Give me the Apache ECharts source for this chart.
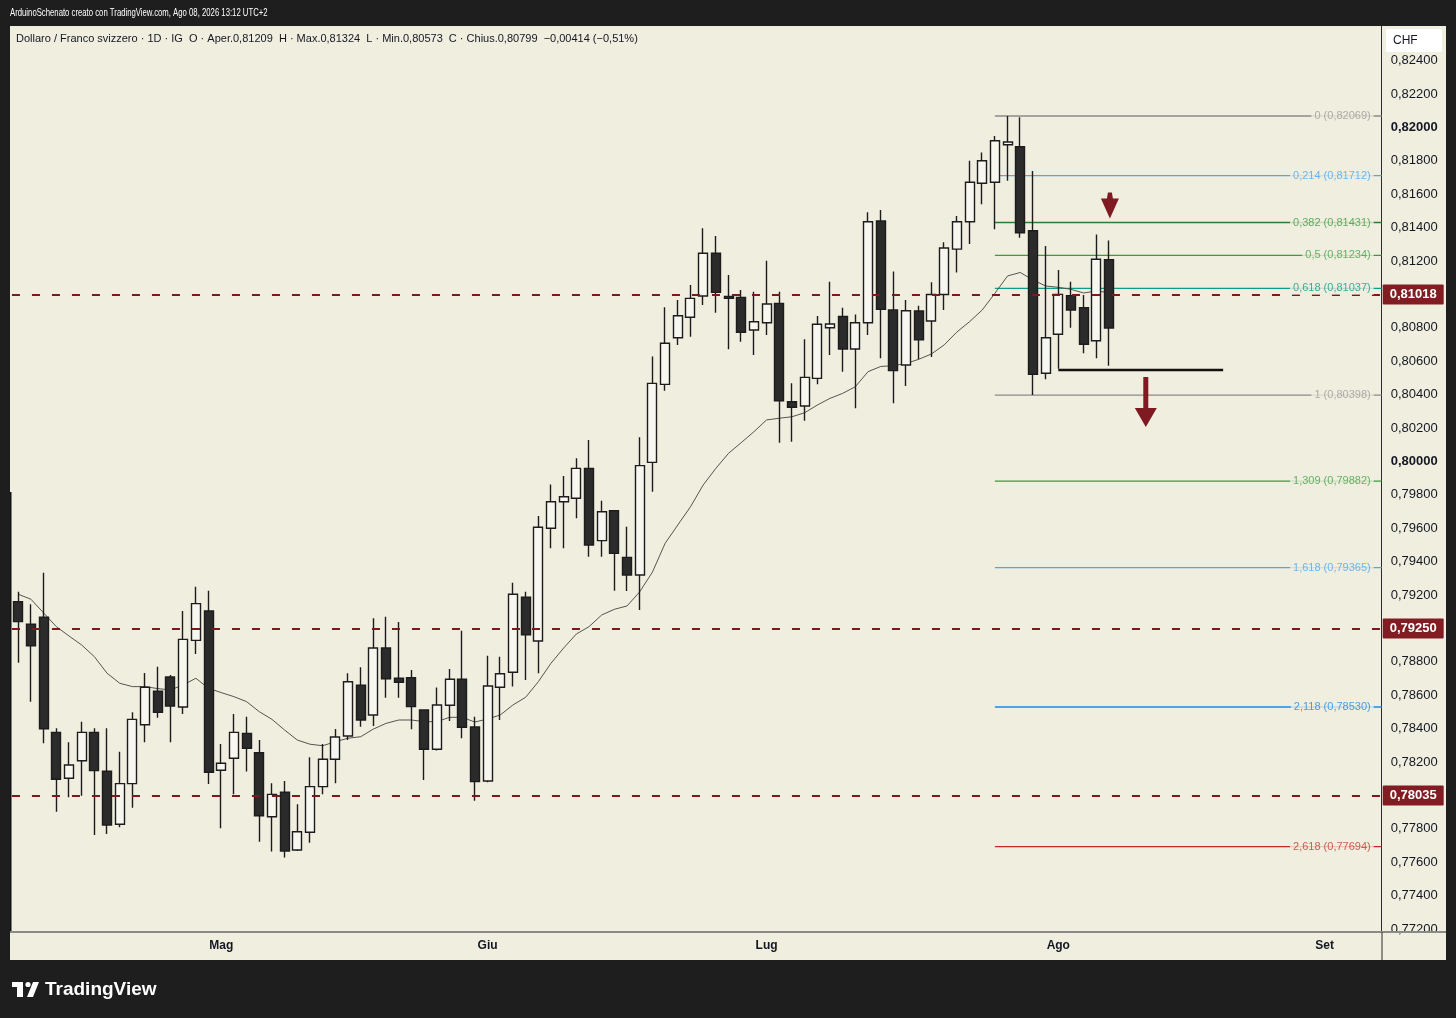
<!DOCTYPE html>
<html><head><meta charset="utf-8">
<script src="https://cdn.jsdelivr.net/npm/echarts@6/dist/echarts.min.js"></script>
<style>html,body{margin:0;padding:0;background:#1e1e1e}#c{width:1456px;height:1018px}</style>
</head><body><div id="c"></div>
<script>
// ---------- data ----------
const startDate = '2026-04-09';
const categoryCount = 108;
const monthNames = ['Gen','Feb','Mar','Apr','Mag','Giu','Lug','Ago','Set','Ott','Nov','Dic'];

const opens = [0.79161,0.79025,0.79067,0.78378,0.78103,0.78208,0.78378,0.78145,0.77828,0.78071,
0.78424,0.78624,0.78710,0.78530,0.78929,0.79105,0.78151,0.78223,0.78372,0.78256,
0.77873,0.78019,0.77674,0.77780,0.78053,0.78217,0.78356,0.78660,0.78482,0.78883,
0.78702,0.78705,0.78512,0.78277,0.78540,0.78696,0.78410,0.78087,0.78648,0.78738,
0.79187,0.78925,0.79600,0.79759,0.79780,0.79959,0.79526,0.79705,0.79426,0.79320,
0.79995,0.80462,0.80741,0.80864,0.80991,0.81247,0.80989,0.80983,0.80787,0.80831,
0.80947,0.80358,0.80332,0.80498,0.80801,0.80868,0.80674,0.80831,0.81440,0.80907,
0.80578,0.80901,0.80841,0.81000,0.81272,0.81436,0.81666,0.81672,0.81897,0.81885,
0.81382,0.80528,0.80762,0.80993,0.80921,0.80723,0.81209];
const highs = [0.79220,0.79145,0.79334,0.78402,0.78319,0.78442,0.78402,0.78402,0.78262,0.78498,
0.78734,0.78771,0.78722,0.79105,0.79250,0.79226,0.78308,0.78488,0.78472,0.78332,
0.78073,0.78087,0.77947,0.78229,0.78308,0.78398,0.78732,0.78768,0.79061,0.79071,
0.79039,0.78751,0.78515,0.78646,0.78757,0.78987,0.78472,0.78837,0.78831,0.79274,
0.79220,0.79674,0.79863,0.79913,0.80019,0.80129,0.79765,0.79710,0.79610,0.80145,
0.80628,0.80923,0.80967,0.81057,0.81396,0.81350,0.81117,0.81027,0.81017,0.81202,
0.81017,0.80468,0.80732,0.80871,0.81077,0.80921,0.80880,0.81492,0.81506,0.81137,
0.80967,0.80933,0.81073,0.81313,0.81470,0.81801,0.81851,0.81949,0.82069,0.82062,
0.81740,0.81290,0.81147,0.81077,0.80997,0.81360,0.81324];
const lows = [0.78795,0.78562,0.78313,0.77903,0.77989,0.77999,0.77764,0.77770,0.77810,0.77927,
0.78319,0.78466,0.78319,0.78488,0.78847,0.78069,0.77804,0.78007,0.78143,0.77723,
0.77664,0.77628,0.77668,0.77717,0.78007,0.78073,0.78332,0.78412,0.78416,0.78586,
0.78586,0.78396,0.78093,0.78270,0.78446,0.78343,0.77969,0.78080,0.78452,0.78652,
0.78692,0.78732,0.79480,0.79480,0.79660,0.79430,0.79430,0.79226,0.79225,0.79111,
0.79819,0.80424,0.80698,0.80747,0.80937,0.80891,0.80672,0.80717,0.80638,0.80758,
0.80113,0.80119,0.80244,0.80462,0.80638,0.80538,0.80319,0.80758,0.80618,0.80349,
0.80452,0.80612,0.80626,0.80907,0.81131,0.81302,0.81540,0.81390,0.81681,0.81340,
0.80398,0.80492,0.80555,0.80801,0.80648,0.80618,0.80573];
const closes = [0.79041,0.78897,0.78400,0.78097,0.78183,0.78378,0.78149,0.77823,0.78071,0.78456,
0.78648,0.78498,0.78536,0.78935,0.79149,0.78139,0.78193,0.78378,0.78283,0.77879,
0.78007,0.77668,0.77783,0.78053,0.78217,0.78350,0.78681,0.78452,0.78883,0.78699,
0.78678,0.78532,0.78277,0.78542,0.78696,0.78408,0.78083,0.78656,0.78729,0.79205,
0.78963,0.79606,0.79759,0.79789,0.79959,0.79500,0.79699,0.79450,0.79320,0.79975,
0.80468,0.80708,0.80873,0.80977,0.81247,0.81013,0.80977,0.80774,0.80837,0.80943,
0.80364,0.80325,0.80504,0.80822,0.80823,0.80674,0.80831,0.81436,0.80911,0.80544,
0.80903,0.80728,0.81000,0.81278,0.81436,0.81672,0.81801,0.81921,0.81913,0.81370,
0.80522,0.80741,0.81001,0.80907,0.80702,0.81211,0.80799];
const maValues = [0.79205,0.79175,0.79093,0.79011,0.78955,0.78901,0.78831,0.78732,0.78672,0.78652,
0.78652,0.78640,0.78632,0.78662,0.78702,0.78642,0.78616,0.78592,0.78562,0.78502,
0.78456,0.78392,0.78332,0.78307,0.78298,0.78322,0.78343,0.78352,0.78398,0.78432,
0.78452,0.78452,0.78442,0.78442,0.78468,0.78468,0.78440,0.78458,0.78482,0.78542,
0.78588,0.78681,0.78792,0.78883,0.78967,0.79011,0.79081,0.79115,0.79135,0.79220,
0.79338,0.79510,0.79620,0.79729,0.79859,0.79959,0.80049,0.80113,0.80178,0.80249,
0.80259,0.80268,0.80292,0.80338,0.80378,0.80408,0.80448,0.80538,0.80569,0.80574,
0.80587,0.80612,0.80644,0.80698,0.80775,0.80837,0.80907,0.81007,0.81111,0.81132,
0.81087,0.81051,0.81043,0.81031,0.81009,0.81021,0.81011];

const levelLines = [0.81018, 0.79250, 0.78035];
const lastPrice = 0.80799;

const fibRatios = ['0','0,214','0,382','0,5','0,618','1','1,309','1,618','2,118','2,618'];
const fibPrices = [0.82069,0.81712,0.81431,0.81234,0.81037,0.80398,0.79882,0.79365,0.78530,0.77694];
const fibColors = ['#8a8a8a','#4aa8f0','#2e7d32','#3c9a40','#0f9a8a','#8a8a8a','#3c9a40','#4aa8f0','#1e88e5','#c62828'];
const fibTextColors = ['#9a9a9a','#4aa8f0','#3c9a40','#43a047','#0f9a8a','#9a9a9a','#43a047','#4aa8f0','#1e88e5','#c0392b'];
const fibStart = 77;

const supportFrom = 82, supportTo = 95, supportPrice = 0.80548;
const arrowX = [86.07, 88.9];
const arrowY = [0.81533, 0.80356];

const yTicks = [0.772,0.774,0.776,0.778,0.780,0.782,0.784,0.786,0.788,0.790,0.792,0.794,0.796,0.798,
0.800,0.802,0.804,0.806,0.808,0.810,0.812,0.814,0.816,0.818,0.820,0.822,0.824];

// ---------- helpers ----------
function weekdays(start, n){
  const out=[]; const d=new Date(start+'T00:00:00Z');
  while(out.length<n){ const w=d.getUTCDay(); if(w!==0&&w!==6) out.push(d.toISOString().slice(0,10)); d.setUTCDate(d.getUTCDate()+1); }
  return out;
}
const categories = weekdays(startDate, categoryCount);
const fmt = v => v.toFixed(5).replace('.', ',');
const FONT = 'Liberation Sans, Arial, sans-serif';
const BG = '#f0eedf';

const candleData = opens.map((o,i)=>[o, closes[i], lows[i], highs[i]]);
const xMaxVal = categoryCount - 0.5;

const fibLineSeries = fibPrices.map((p,i)=>({
  type:'line', xAxisIndex:1, yAxisIndex:0, silent:true, symbol:'none', z:1,
  data:[[fibStart,p],[xMaxVal,p]],
  lineStyle:{color:fibColors[i], width:1.3}
}));

const arrowSmall = 'path://M7,0 L11,0 L12,6 L18,6 L9,26 L0,6 L6,6 Z';
const arrowBig = 'path://M8.5,0 L13.5,0 L13.5,31 L22,31 L11,50 L0,31 L8.5,31 Z';

const option = {
  backgroundColor: BG,
  animation:false,
  grid:{left:11.96, right:74.3, top:26, bottom:86},
  xAxis:[{
    type:'category', data:categories, boundaryGap:true,
    axisLine:{show:false}, axisTick:{show:false}, splitLine:{show:false},
    axisLabel:{
      interval:(idx,val)=> idx>0 && categories[idx].slice(5,7)!==categories[idx-1].slice(5,7),
      formatter:(val)=> monthNames[parseInt(val.slice(5,7),10)-1],
      color:'#131722', fontSize:12, fontWeight:'bold', fontFamily:FONT, margin:8
    }
  },{
    type:'value', min:-0.5, max:xMaxVal, show:false
  }],
  yAxis:{
    type:'value', position:'right', min:0.771826, max:0.826078,
    splitLine:{show:false}, axisTick:{show:false},
    axisLine:{show:true, onZero:false, lineStyle:{color:'#2b2b2b', width:1}},
    axisLabel:{
      customValues: yTicks, margin:9, fontSize:13, color:'#131722', fontFamily:FONT,
      formatter:(v)=>{ const s=fmt(v); return Math.abs(v*100-Math.round(v*100))<1e-6 ? '{b|'+s+'}' : s; },
      rich:{b:{fontWeight:'bold', fontSize:13, color:'#131722', fontFamily:FONT}}
    }
  },
  series:[
    ...fibLineSeries,
    {
      type:'line', xAxisIndex:0, data:maValues, symbol:'none', silent:true, z:2,
      lineStyle:{color:'#555550', width:1}
    },
    {
      type:'candlestick', xAxisIndex:0, data:candleData, barWidth:9.5, z:3,
      itemStyle:{color:'#f7f6ef', color0:'#2b2b2b', borderColor:'#1c1c1c', borderColor0:'#1c1c1c', borderWidth:1.4},
      markLine:{
        silent:true, symbol:['none','none'], animation:false,
        data:[
          ...levelLines.map(v=>({yAxis:v, lineStyle:{color:'#7a1a1e', width:2, type:[8,12]},
            label:{show:true, position:'end', distance:1, formatter:()=>fmt(v), color:'#ffffff', fontWeight:'bold', fontSize:13, fontFamily:FONT, backgroundColor:'#801c22', padding:[4,7,3,7], borderRadius:1}})),
          {yAxis:lastPrice, lineStyle:{opacity:0},
            label:{show:true, position:'end', distance:1, formatter:()=>fmt(lastPrice), color:'#ffffff', fontWeight:'bold', fontSize:13, fontFamily:FONT, backgroundColor:'#000000', padding:[4,7,3,7]}}
        ]
      }
    },
    {
      type:'line', xAxisIndex:1, silent:true, symbol:'none', z:4,
      data:[[supportFrom,supportPrice],[supportTo,supportPrice]],
      lineStyle:{color:'#111111', width:2.5}
    },
    {
      type:'scatter', xAxisIndex:1, silent:true, clip:false, z:5, symbolSize:0,
      itemStyle:{color:'transparent'},
      data: fibPrices.map((p,i)=>({value:[xMaxVal,p], label:{color:fibTextColors[i], formatter: fibRatios[i]+' ('+fmt(p)+')'}})),
      label:{show:true, position:'left', distance:8, fontSize:11, fontFamily:FONT, backgroundColor:BG, padding:[1,3,1,3]}
    },
    {
      type:'scatter', xAxisIndex:1, silent:true, z:6,
      data:[
        {value:[arrowX[0],arrowY[0]], symbol:arrowSmall, symbolSize:[18,26]},
        {value:[arrowX[1],arrowY[1]], symbol:arrowBig, symbolSize:[22,50]}
      ],
      itemStyle:{color:'#7f1a22', opacity:1}
    }
  ],
  graphic:[
    {type:'rect', z:100, shape:{x:0,y:0,width:1456,height:26}, style:{fill:'#1e1e1e'}},
    {type:'rect', z:100, shape:{x:0,y:0,width:10,height:1018}, style:{fill:'#1e1e1e'}},
    {type:'rect', z:100, shape:{x:1446,y:0,width:10,height:1018}, style:{fill:'#1e1e1e'}},
    {type:'rect', z:100, shape:{x:0,y:960,width:1456,height:58}, style:{fill:'#1e1e1e'}},
    {type:'rect', z:100, shape:{x:10,y:492,width:1.5,height:440}, style:{fill:'#111111'}},
    {type:'line', z:100, shape:{x1:10,y1:932,x2:1446,y2:932}, style:{stroke:'#8a8a86', lineWidth:2}},
    {type:'line', z:100, shape:{x1:1382,y1:932,x2:1382,y2:960}, style:{stroke:'#2b2b2b', lineWidth:1}},
    {type:'rect', z:101, shape:{x:1386,y:29,width:56,height:23,r:2}, style:{fill:'#ffffff'}},
    {type:'text', z:102, style:{text:'CHF', x:1393, y:41, fill:'#131722', fontSize:12, fontFamily:FONT, verticalAlign:'middle'}},
    {type:'text', z:102, x:10, y:13, scaleX:0.76, style:{text:'ArduinoSchenato creato con TradingView.com, Ago 08, 2026 13:12 UTC+2', x:0, y:0, fill:'#ffffff', fontSize:10.2, fontFamily:FONT, verticalAlign:'middle'}},
    {type:'text', z:102, style:{text:'Dollaro / Franco svizzero · 1D · IG  O · Aper.0,81209  H · Max.0,81324  L · Min.0,80573  C · Chius.0,80799  \u22120,00414 (\u22120,51%)', x:16, y:39, fill:'#131722', fontSize:11, fontFamily:FONT, verticalAlign:'middle'}},
    {type:'rect', z:102, shape:{x:12,y:982,width:11,height:5}, style:{fill:'#ffffff'}},
    {type:'rect', z:102, shape:{x:17,y:982,width:6,height:15}, style:{fill:'#ffffff'}},
    {type:'circle', z:102, shape:{cx:28,cy:984.5,r:2.6}, style:{fill:'#ffffff'}},
    {type:'polygon', z:102, shape:{points:[[33,982],[39,982],[33,997],[27,997]]}, style:{fill:'#ffffff'}},
    {type:'text', z:102, style:{text:'TradingView', x:45, y:990, fill:'#ffffff', fontSize:19, fontWeight:'bold', fontFamily:FONT, verticalAlign:'middle'}}
  ]
};
const chart = echarts.init(document.getElementById('c'), null, {renderer:'canvas'});
chart.setOption(option);
</script>
</body></html>
